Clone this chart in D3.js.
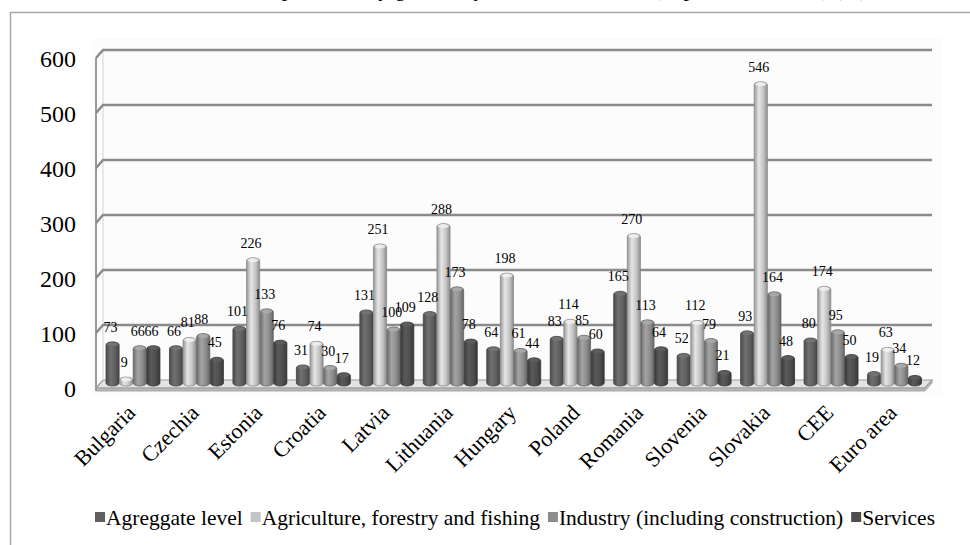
<!DOCTYPE html>
<html>
<head>
<meta charset="utf-8">
<script src="https://cdn.jsdelivr.net/npm/d3@7"></script>
<style>
  body { margin: 0; background: #fff; }
  svg { display: block; }
</style>
</head>
<body>
<svg id="chart" width="970" height="545"></svg>
<script>
// data
const categories = ["Bulgaria", "Czechia", "Estonia", "Croatia", "Latvia", "Lithuania", "Hungary",
  "Poland", "Romania", "Slovenia", "Slovakia", "CEE", "Euro area"];
const seriesNames = ["Agreggate level", "Agriculture, forestry and fishing",
  "Industry (including construction)", "Services"];
const aggregate   = [73, 66, 101, 31, 131, 128, 64, 83, 165, 52, 93, 80, 19];
const agriculture = [9, 81, 226, 74, 251, 288, 198, 114, 270, 112, 546, 174, 63];
const industry    = [66, 88, 133, 30, 100, 173, 61, 85, 113, 79, 164, 95, 34];
const services    = [66, 45, 76, 17, 109, 78, 44, 60, 64, 21, 48, 50, 12];
const yTicks = [0, 100, 200, 300, 400, 500, 600];
const titleText = "Labour productivity growth by sector, 2000-2017 (in percent of 2000) (%)";

const seriesValues = [aggregate, agriculture, industry, services];
const colors = ["#5f5f5f", "#c4c4c4", "#8c8c8c", "#4d4d4d"];
const FONT = "Times, Tinos, serif";

const svg = d3.select("#chart");
const defs = svg.append("defs");

// outer frame + title (title is clipped at the top in the original)
svg.append("rect")
    .attr("x", 10.5).attr("y", 12.5)
    .attr("width", 1000).attr("height", 600)
    .attr("fill", "none").attr("stroke", "#a8a8a8").attr("stroke-width", 1.5);

svg.append("text")
    .attr("x", 540).attr("y", -4)
    .attr("text-anchor", "middle")
    .style("font-family", FONT)
    .style("font-size", "22px")
    .text(titleText);

// 3d geometry: front plane, back plane, and the middle where bars stand
const depthX = 7;
const yFront = d3.scaleLinear().domain([0, 600]).range([388, 58]);
const yBack = d3.scaleLinear().domain([0, 600]).range([380, 50]);
const y = d3.scaleLinear().domain([0, 600]).range([384, 54]);
const leftX = 96, rightX = 925;

const x0 = d3.scaleBand().domain(categories).range([102, 927]).padding(0);
const x1 = d3.scaleBand().domain(seriesNames).range([4, x0.bandwidth() - 5]).padding(0);

// plot background
svg.append("rect")
    .attr("x", 92).attr("y", 38)
    .attr("width", 850).attr("height", 358)
    .attr("fill", "#fcfcfc");

// floor
const floor = svg.append("g");
floor.append("path")
    .attr("d", `M${leftX},${yFront(0)} L${leftX + depthX},${yBack(0)} L${rightX + depthX},${yBack(0)} L${rightX},${yFront(0)} Z`)
    .attr("fill", "#e4e4e4").attr("stroke", "#9a9a9a").attr("stroke-width", 1.2);
floor.append("path")
    .attr("d", `M${leftX},${yFront(0)} L${rightX},${yFront(0)} L${rightX + depthX},${yBack(0)} L${rightX + depthX},${yBack(0) + 3} L${rightX},${yFront(0) + 3} L${leftX},${yFront(0) + 3} Z`)
    .attr("fill", "#b8b8b8").attr("stroke", "#9a9a9a").attr("stroke-width", 0.8);

// walls
svg.append("line")
    .attr("x1", leftX + depthX).attr("x2", leftX + depthX)
    .attr("y1", yBack(0)).attr("y2", yBack(600))
    .attr("stroke", "#d4d4d4").attr("stroke-width", 1);
svg.append("line")
    .attr("x1", leftX).attr("x2", leftX)
    .attr("y1", yFront(0) + 3).attr("y2", yFront(600))
    .attr("stroke", "#9a9a9a").attr("stroke-width", 2);

// gridlines
svg.append("g").selectAll("path")
    .data(yTicks.filter(d => d > 0))
    .join("path")
    .attr("d", d => `M${leftX},${yFront(d)} L${leftX + depthX},${yBack(d)} L${rightX + depthX},${yBack(d)}`)
    .attr("fill", "none")
    .attr("stroke", "#8a8a8a")
    .attr("stroke-width", 2.5);

// y labels
svg.append("g").selectAll("text")
    .data(yTicks)
    .join("text")
    .attr("x", 76)
    .attr("y", d => yFront(d) + 9)
    .attr("text-anchor", "end")
    .style("font-family", FONT)
    .style("font-size", "24px")
    .text(d => d);

// gradients for cylinder bars
colors.forEach((c, i) => {
  const g = defs.append("linearGradient")
      .attr("id", "grad" + i)
      .attr("x1", "0").attr("x2", "1").attr("y1", "0").attr("y2", "0");
  const base = d3.color(c);
  g.append("stop").attr("offset", "0%").attr("stop-color", base.darker(0.7));
  g.append("stop").attr("offset", "35%").attr("stop-color", base.brighter(0.45));
  g.append("stop").attr("offset", "70%").attr("stop-color", base);
  g.append("stop").attr("offset", "100%").attr("stop-color", base.darker(0.9));
});

// bars
const bars = [];
categories.forEach((cat, ci) => {
  seriesNames.forEach((s, si) => {
    bars.push({ cat: cat, series: s, si: si, value: seriesValues[si][ci] });
  });
});

const barW = x1.bandwidth() - 0.5;
const barG = svg.append("g");
barG.selectAll("rect")
    .data(bars)
    .join("rect")
    .attr("x", d => x0(d.cat) + x1(d.series))
    .attr("y", d => y(d.value) - 2)
    .attr("width", barW)
    .attr("height", d => y(0) - y(d.value) + 4)
    .attr("rx", barW / 2).attr("ry", 3)
    .attr("fill", d => `url(#grad${d.si})`)
    .attr("stroke", d => d3.color(colors[d.si]).darker(1))
    .attr("stroke-width", 0.8);

barG.selectAll("ellipse")
    .data(bars)
    .join("ellipse")
    .attr("cx", d => x0(d.cat) + x1(d.series) + barW / 2)
    .attr("cy", d => y(d.value) + 0.5)
    .attr("rx", barW / 2 - 1)
    .attr("ry", 2)
    .attr("fill", d => d3.color(colors[d.si]).brighter(0.6))
    .attr("opacity", 0.8);

// value labels
svg.append("g").selectAll("text")
    .data(bars)
    .join("text")
    .attr("x", d => x0(d.cat) + x1(d.series) + barW / 2 - 2)
    .attr("y", d => y(d.value) - 12)
    .attr("text-anchor", "middle")
    .style("font-family", FONT)
    .style("font-size", "14px")
    .text(d => d.value);

// category labels
svg.append("g").selectAll("text")
    .data(categories)
    .join("text")
    .attr("transform", d => `translate(${x0(d) + x0.bandwidth() / 2 + 3},414) rotate(-45)`)
    .attr("text-anchor", "end")
    .style("font-family", FONT)
    .style("font-size", "22px")
    .text(d => d);

// legend
const legend = svg.append("g");
let lx = 95;
seriesNames.forEach((s, i) => {
  legend.append("rect")
      .attr("x", lx).attr("y", 512)
      .attr("width", 10).attr("height", 10)
      .attr("fill", colors[i]);
  const t = legend.append("text")
      .attr("x", lx + 11).attr("y", 525)
      .style("font-family", FONT)
      .style("font-size", "21.5px")
      .text(s);
  lx += 11 + t.node().getComputedTextLength() + 8;
});
</script>
</body>
</html>
